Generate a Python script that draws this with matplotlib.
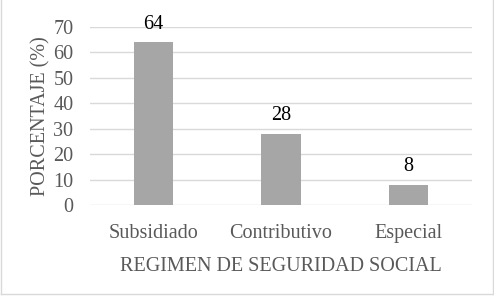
import matplotlib.pyplot as plt
from matplotlib.lines import Line2D

categories = ['Subsidiado', 'Contributivo', 'Especial']
values = [64, 28, 8]
yticks = [0, 10, 20, 30, 40, 50, 60, 70]

plt.rcParams['font.family'] = ['Liberation Serif', 'DejaVu Serif']

fig = plt.figure(figsize=(4.94, 2.96), dpi=100)
ax = fig.add_axes([90 / 494, 1 - 205 / 296, (472 - 90) / 494, (205 - 27) / 296])

x = range(len(categories))
bars = ax.bar(x, values, width=0.31, color='#a6a6a6', zorder=3)
for b, v in zip(bars, values):
    ax.annotate(str(v), (b.get_x() + b.get_width() / 2, v), xytext=(0, 6),
                textcoords='offset points', ha='center', va='bottom',
                fontsize=14.5, color='black', clip_on=False)

ax.set_xlim(-0.5, len(categories) - 0.5)
ax.set_ylim(0, 70)
ax.set_yticks(yticks)
ax.set_xticks(list(x))
ax.set_xticklabels(categories)
ax.tick_params(axis='both', length=0, labelsize=14.5, colors='#595959')
ax.tick_params(axis='x', pad=14)
ax.tick_params(axis='y', pad=12)
ax.grid(axis='y', color='#d9d9d9', linewidth=1, zorder=0)
for s in ax.spines.values():
    s.set_visible(False)

ax.set_ylabel('PORCENTAJE (%)', fontsize=14.5, color='#595959', labelpad=2)
ax.set_xlabel('REGIMEN DE SEGURIDAD SOCIAL', fontsize=14.5, color='#595959', labelpad=10)

# chart border (top edge falls outside the picture)
bc = '#d9d9d9'
W, H = 494, 296
fig.add_artist(Line2D([1 / W, 1 / W], [1 - 294 / H, 1], color=bc, lw=1))
fig.add_artist(Line2D([492.5 / W, 492.5 / W], [1 - 294 / H, 1], color=bc, lw=1))
fig.add_artist(Line2D([1 / W, 492.5 / W], [1 - 294 / H, 1 - 294 / H], color=bc, lw=1))

fig.savefig('out.png', dpi=100)
